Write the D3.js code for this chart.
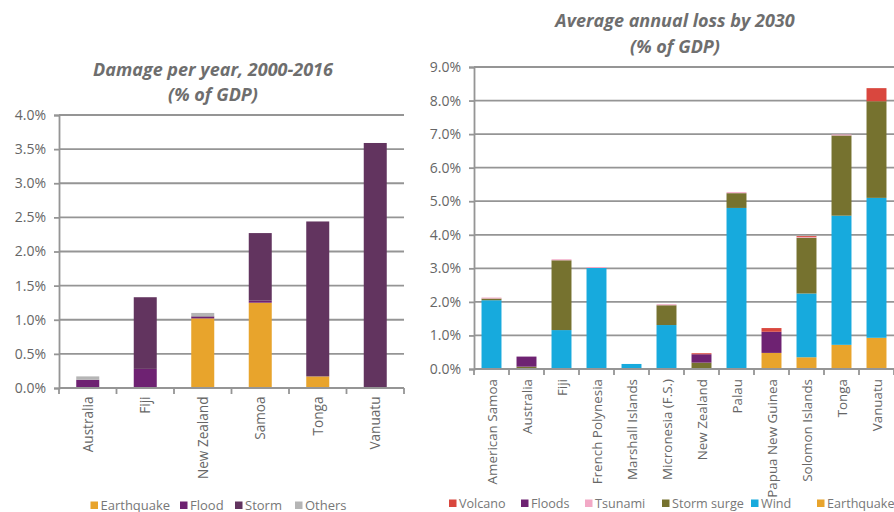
<!DOCTYPE html>
<html><head><meta charset="utf-8">
<script src="https://cdn.jsdelivr.net/npm/d3@7"></script>
<style>body{margin:0;background:#fff;font-family:"Open Sans",sans-serif;}</style>
</head><body><svg id="c" width="894" height="512"></svg>
<script>
// Left chart data
const leftCats = ["Australia","Fiji","New Zealand","Samoa","Tonga","Vanuatu"];
const leftKeys = ["Earthquake","Flood","Storm","Others"];
const leftEarthquake = [0, 0, 1.02, 1.25, 0.17, 0];
const leftFlood = [0.12, 0.28, 0.02, 0.03, 0, 0];
const leftStorm = [0, 1.05, 0.01, 0.99, 2.27, 3.59];
const leftOthers = [0.05, 0, 0.05, 0, 0, 0];
const leftTicks = [0,0.5,1.0,1.5,2.0,2.5,3.0,3.5,4.0];

// Right chart data
const rightCats = ["American Samoa","Australia","Fiji","French Polynesia","Marshall Islands","Micronesia (F.S.)","New Zealand","Palau","Papua New Guinea","Solomon Islands","Tonga","Vanuatu"];
const rightKeys = ["Earthquake","Wind","Storm surge","Tsunami","Floods","Volcano"];
const rightEarthquake = [0, 0, 0, 0, 0, 0, 0, 0, 0.48, 0.35, 0.72, 0.93];
const rightWind = [2.05, 0, 1.16, 3.01, 0.15, 1.31, 0, 4.80, 0, 1.90, 3.85, 4.17];
const rightStormSurge = [0.05, 0.07, 2.08, 0, 0, 0.59, 0.19, 0.44, 0, 1.66, 2.39, 2.88];
const rightTsunami = [0.03, 0, 0.03, 0.03, 0, 0.03, 0, 0.03, 0, 0.02, 0.03, 0];
const rightFloods = [0, 0.30, 0, 0, 0, 0, 0.25, 0, 0.63, 0, 0, 0];
const rightVolcano = [0, 0, 0, 0, 0, 0, 0.03, 0, 0.11, 0.03, 0, 0.39];
const rightTicks = [0,1,2,3,4,5,6,7,8,9];

const colors = {
  "Earthquake":"#E8A42C","Flood":"#6E2272","Storm":"#62345F","Others":"#B5B5B5",
  "Volcano":"#D9473E","Floods":"#6E2272","Tsunami":"#F2A9C6","Storm surge":"#76722F","Wind":"#17AADD"
};

const svg = d3.select("#c");
const txt = "#666666";
const gridC = "#959595";

function drawChart(opt){
  const g = svg.append("g");
  const rows = opt.cats.map((c,i)=>{const o={cat:c}; opt.keys.forEach((k,j)=>o[k]=opt.series[j][i]); return o;});
  const stack = d3.stack().keys(opt.keys)(rows);
  const x = d3.scaleBand().domain(opt.cats).range([opt.x0,opt.x1]).paddingInner(opt.pad).paddingOuter(opt.pad/2);
  const y = d3.scaleLinear().domain([0,opt.max]).range([opt.y0,opt.y1]);
  // gridlines
  g.append("g").selectAll("line").data(opt.ticks).join("line")
    .attr("x1",opt.x0).attr("x2",opt.x1).attr("y1",d=>y(d)).attr("y2",d=>y(d))
    .attr("stroke",gridC).attr("stroke-width",1.8);
  // y axis
  const ya = g.append("g").attr("transform",`translate(${opt.x0},0)`)
    .call(d3.axisLeft(y).tickValues(opt.ticks).tickFormat(d=>d.toFixed(1)+"%").tickSize(5).tickPadding(8));
  ya.select(".domain").attr("stroke",gridC).attr("stroke-width",1.8);
  ya.selectAll(".tick line").attr("stroke",gridC).attr("stroke-width",1.8);
  ya.selectAll("text").attr("fill",txt).style("font-family","Open Sans").style("font-size","14px");
  // bars
  g.append("g").selectAll("g").data(stack).join("g").attr("fill",d=>colors[d.key])
    .selectAll("rect").data(d=>d).join("rect")
    .attr("x",d=>x(d.data.cat)).attr("width",x.bandwidth())
    .attr("y",d=>y(d[1])).attr("height",d=>Math.max(0,y(d[0])-y(d[1])));
  // x axis
  const step = (opt.x1-opt.x0)/opt.cats.length;
  const xa = g.append("g").attr("transform",`translate(0,${opt.y0})`);
  xa.append("line").attr("x1",opt.x0).attr("x2",opt.x1).attr("stroke",gridC).attr("stroke-width",1.8);
  xa.selectAll(".tk").data(d3.range(opt.cats.length+1)).join("line").attr("class","tk")
    .attr("x1",i=>opt.x0+i*step).attr("x2",i=>opt.x0+i*step).attr("y1",0).attr("y2",6)
    .attr("stroke",gridC).attr("stroke-width",1.8);
  xa.selectAll(".lbl").data(opt.cats).join("text").attr("class","lbl")
    .attr("transform",d=>`translate(${x(d)+x.bandwidth()/2+5},${opt.lblOff}) rotate(-90)`)
    .attr("text-anchor","end").attr("fill",txt)
    .style("font-family","Open Sans").style("font-size",opt.lblSize)
    .text(d=>d);
  // title
  opt.title.forEach((t,i)=>{
    g.append("text").attr("x",opt.tx).attr("y",opt.ty+i*opt.tdy).attr("text-anchor","middle")
      .attr("fill","#6e6e6e").style("font-family","Open Sans").style("font-weight","700")
      .style("font-style","italic").style("font-size","18px").text(t);
  });
  // legend
  const lg = g.append("g");
  opt.legend.forEach((l,i)=>{
    lg.append("rect").attr("x",l.x).attr("y",opt.ly-8).attr("width",7.5).attr("height",7.5).attr("fill",colors[l.k]);
    lg.append("text").attr("x",l.x+10).attr("y",opt.ly).attr("fill","#777")
      .style("font-family","Open Sans").style("font-size",opt.legSize).text(l.k);
  });
}

drawChart({cats:leftCats, keys:leftKeys, series:[leftEarthquake,leftFlood,leftStorm,leftOthers],
  ticks:leftTicks, max:4.0, x0:59, x1:404, y0:388, y1:115, pad:0.6,
  lblOff:8.5, lblSize:"13.6px",
  title:["Damage per year, 2000-2016","(% of GDP)"], tx:213, ty:76, tdy:25,
  ly:509.5, legSize:"13px", legend:[{k:"Earthquake",x:90.5},{k:"Flood",x:180},{k:"Storm",x:235},{k:"Others",x:295}]});

drawChart({cats:rightCats, keys:rightKeys, series:[rightEarthquake,rightWind,rightStormSurge,rightTsunami,rightFloods,rightVolcano],
  ticks:rightTicks, max:9.0, x0:474, x1:894, y0:369, y1:67, pad:0.43,
  lblOff:10, lblSize:"13.4px",
  title:["Average annual loss by 2030","(% of GDP)"], tx:675, ty:27, tdy:26,
  ly:507.5, legSize:"12.6px", legend:[{k:"Volcano",x:449},{k:"Floods",x:521},{k:"Tsunami",x:585},{k:"Storm surge",x:662},{k:"Wind",x:751},{k:"Earthquake",x:817}]});
</script></body></html>
